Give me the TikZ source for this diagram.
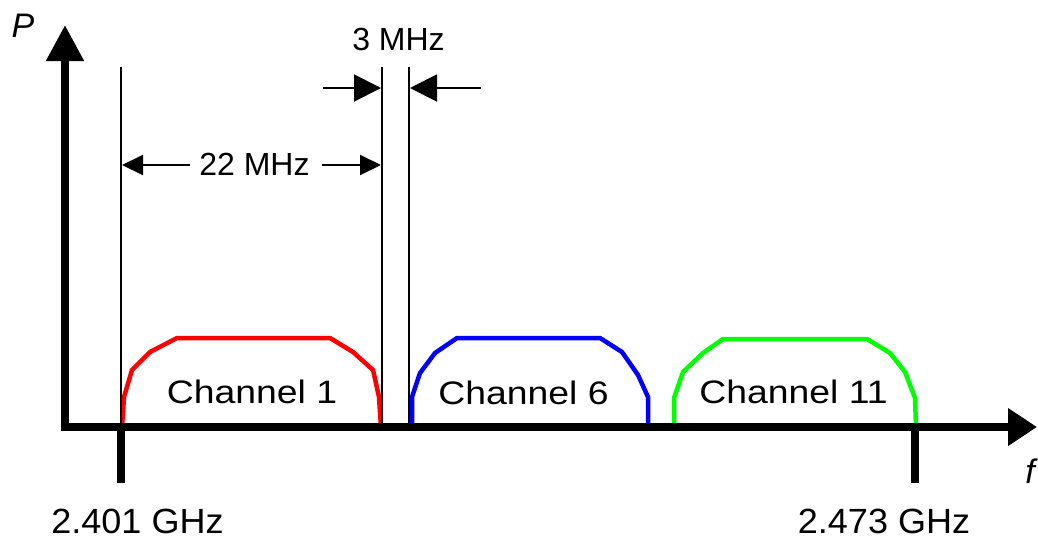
\documentclass[tikz,border=0pt]{standalone}
\usepackage{fontspec}
\setmainfont{Liberation Sans}
\newfontfamily\chfont[FakeStretch=1.15]{Liberation Sans}
\newfontfamily\ghzfont[FakeStretch=1.03]{Liberation Sans}
\usetikzlibrary{arrows.meta}
\begin{document}
\begin{tikzpicture}[x=1pt,y=-1pt,
  axis/.style={line width=8pt},
  thin/.style={line width=2pt},
  band/.style={line width=4.5pt, line join=round},
  lbl/.style={inner sep=0pt, anchor=base, font=\fontsize{32}{38}\selectfont},
  chlbl/.style={inner sep=0pt, anchor=base, font=\chfont\fontsize{32.5}{38}\selectfont},
  ghzlbl/.style={inner sep=0pt, anchor=base, font=\ghzfont\fontsize{35}{40}\selectfont},
  axlbl/.style={inner sep=0pt, anchor=base, font=\itshape\fontsize{34}{40}\selectfont},
  bigdim/.style={thin, -{Triangle[length=27pt,width=27pt]}},
  smalldim/.style={thin, -{Triangle[length=21pt,width=20pt]}}]
\useasboundingbox (0,0) rectangle (1038,539);
\definecolor{chred}{RGB}{255,0,0}
\definecolor{chblue}{RGB}{0,0,255}
\definecolor{chgreen}{RGB}{0,255,0}
% coordinates
\coordinate (origin) at (65,431);
\coordinate (ytip) at (65,25);
\coordinate (xstart) at (61,427);
\coordinate (xtip) at (1037,427);
\coordinate (t1top) at (121,427);
\coordinate (t1bot) at (121,483);
\coordinate (t2top) at (915,427);
\coordinate (t2bot) at (915,483);
\coordinate (l1top) at (121,67);
\coordinate (l1bot) at (121,427);
\coordinate (l2top) at (382,67);
\coordinate (l2bot) at (382,427);
\coordinate (l3top) at (409,67);
\coordinate (l3bot) at (409,427);
\coordinate (a3l) at (323,88);
\coordinate (a3lt) at (381,88);
\coordinate (a3r) at (481,88);
\coordinate (a3rt) at (410,88);
\coordinate (a22l) at (190,165);
\coordinate (a22lt) at (122,165);
\coordinate (a22r) at (322,165);
\coordinate (a22rt) at (381,165);
% channel bands
\draw[band, chred] (122,427) -- (124,397) -- (132,370) -- (150,352) -- (177,338) -- (330,338) -- (353,352) -- (373,370) -- (379,397) -- (381,427);
\draw[band, chblue] (412,427) -- (412,397) -- (420,373) -- (435,353) -- (457,338) -- (600,338) -- (622,352) -- (638,375) -- (648,397) -- (648,427);
\draw[band, chgreen] (674,427) -- (674,398) -- (683,372) -- (703,353) -- (723,339) -- (867,339) -- (890,353) -- (905,372) -- (915,398) -- (916,427);
% thin lines
\draw[thin] (l1top) -- (l1bot);
\draw[thin] (l2top) -- (l2bot);
\draw[thin] (l3top) -- (l3bot);
% dimension arrows
\draw[bigdim] (a3l) -- (a3lt);
\draw[bigdim] (a3r) -- (a3rt);
\draw[smalldim] (a22l) -- (a22lt);
\draw[smalldim] (a22r) -- (a22rt);
% axes
\draw[axis, -{Triangle[length=36pt,width=36pt]}] (origin) -- (ytip);
\draw[axis, -{Triangle[length=29pt,width=36pt]}] (xstart) -- (xtip);
\draw[axis] (t1top) -- (t1bot);
\draw[axis] (t2top) -- (t2bot);
% labels
\node[axlbl] (plab) at (23,37) {P};
\node[axlbl] (flab) at (1030,483) {f};
\node[lbl] (mhz3) at (398.5,50) {3 MHz};
\node[lbl] (mhz22) at (254.5,175) {22 MHz};
\node[chlbl] (ch1) at (252,403) {Channel 1};
\node[chlbl] (ch6) at (523.5,404) {Channel 6};
\node[chlbl] (ch11) at (793.5,403) {Channel 11};
\node[ghzlbl] (g1) at (137.5,533) {2.401 GHz};
\node[ghzlbl] (g2) at (884,533) {2.473 GHz};
\end{tikzpicture}
\end{document}
